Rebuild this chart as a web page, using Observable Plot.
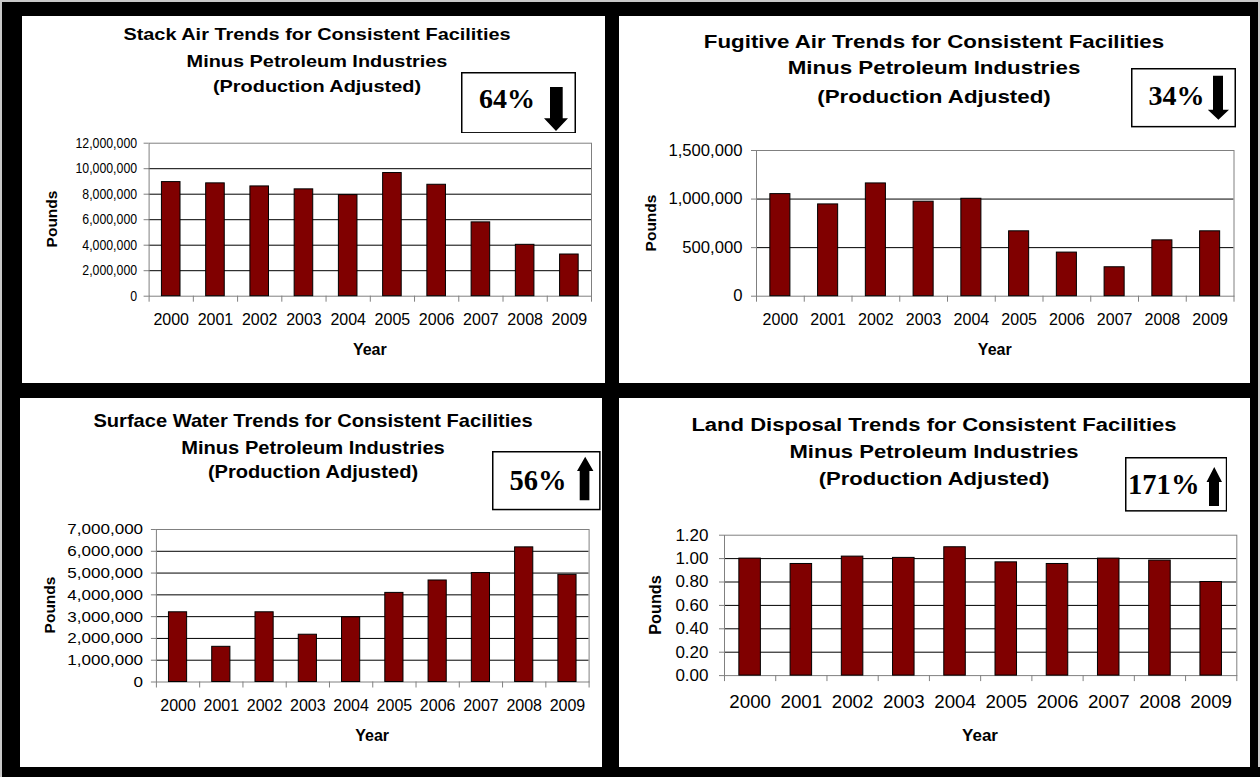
<!DOCTYPE html>
<html>
<head>
<meta charset="utf-8">
<script src="https://cdn.jsdelivr.net/npm/d3@7"></script>
<script src="https://cdn.jsdelivr.net/npm/@observablehq/plot@0.6"></script>
<style>
  html, body { margin: 0; padding: 0; background: #000; }
  #root { position: relative; width: 1260px; height: 777px; background: #000; overflow: hidden; }
  #edgeL { position: absolute; left: 0; top: 0; width: 2px; height: 777px; background: #c8c8c8; }
  #edgeT { position: absolute; left: 0; top: 0; width: 1260px; height: 2px; background: #c8c8c8; }
  #edgeR { position: absolute; right: 0; top: 0; width: 2px; height: 767px; background: #c8c8c8; }
  .panel { position: absolute; background: #fff; overflow: hidden; }
  .panel svg.chart { position: absolute; left: 0; top: 0; }
  .tline { position: absolute; left: 0; width: 0; height: 0; }
  .tline span { position: absolute; left: 0; top: 0; white-space: nowrap; font-family: "Liberation Sans", Arial, sans-serif; font-weight: bold; line-height: 1; color: #000; }
  .lbl { position: absolute; white-space: nowrap; font-family: "Liberation Sans", Arial, sans-serif; font-weight: bold; line-height: 1; color: #000; }
  .box { position: absolute; }
</style>
</head>
<body>
<div id="root"><div id="edgeL"></div><div id="edgeT"></div><div id="edgeR"></div></div>
<script>
// ---------------- data ----------------
const years = ["2000", "2001", "2002", "2003", "2004", "2005", "2006", "2007", "2008", "2009"];

const stackAir     = [8950000, 8850000, 8610000, 8380000, 7930000, 9660000, 8740000, 5790000, 4030000, 3270000];
const fugitiveAir  = [1051000, 945000, 1161000, 973000, 1003000, 668000, 449000, 298000, 575000, 668000];
const surfaceWater = [3200000, 1615000, 3200000, 2170000, 2970000, 4090000, 4660000, 5000000, 6180000, 4920000];
const landDisposal = [1.00, 0.954, 1.017, 1.006, 1.097, 0.968, 0.954, 1.00, 0.983, 0.80];

const stackTicks    = [0, 2000000, 4000000, 6000000, 8000000, 10000000, 12000000];
const fugitiveTicks = [0, 500000, 1000000, 1500000];
const surfaceTicks  = [0, 1000000, 2000000, 3000000, 4000000, 5000000, 6000000, 7000000];
const landTicks     = [0, 0.2, 0.4, 0.6, 0.8, 1.0, 1.2];

const stackTitle    = ["Stack Air Trends for Consistent Facilities", "Minus Petroleum Industries", "(Production Adjusted)"];
const fugitiveTitle = ["Fugitive Air Trends for Consistent Facilities", "Minus Petroleum Industries", "(Production Adjusted)"];
const surfaceTitle  = ["Surface Water Trends for Consistent Facilities", "Minus Petroleum Industries", "(Production Adjusted)"];
const landTitle     = ["Land Disposal Trends for Consistent Facilities", "Minus Petroleum Industries", "(Production Adjusted)"];

const changes    = ["64%", "34%", "56%", "171%"];
const directions = ["down", "down", "up", "up"];
const xTitle = "Year";
const yTitle = "Pounds";

// ---------------- layout / style ----------------
const layouts = [
  { x: 22, y: 16, w: 583, h: 367, ml: 126.6, mr: 14, mt: 126.7, mb: 87.3,
    fmt: ",", yFont: 14, yStretch: 0.88, yPad: 7, xFont: 16, xStretch: 1, xPad: 17.3,
    tFont: 17, tStretch: 1.17, tCx: 294.6, tYs: [18.3, 45, 70],
    yearFont: 16, yearX: 347.8, yearY: 334, pFont: 15.5, pX: 30, pY: 203.2,
    box: { x: 439, y: 55.7, w: 115, h: 61.6, tx: 18, base: 36.3, font: 28,
           ar: { hx0: 83, hx1: 107, sx0: 89, sx1: 101.7, a: 15, b: 46.3, c: 59 } } },
  { x: 619, y: 16, w: 631, h: 367, ml: 137, mr: 16.5, mt: 134, mb: 87.3,
    fmt: ",", yFont: 16, yStretch: 1.04, yPad: 9, xFont: 16, xStretch: 1, xPad: 17.5,
    tFont: 18.6, tStretch: 1.2, tCx: 315, tYs: [25.7, 52.3, 80.7],
    yearFont: 16, yearX: 375.75, yearY: 334, pFont: 15.5, pX: 31.6, pY: 206.85,
    box: { x: 512, y: 52.3, w: 105, h: 59.4, tx: 17.6, base: 36.7, font: 28,
           ar: { hx0: 76.8, hx1: 98, sx0: 82, sx1: 92, a: 7.7, b: 41.7, c: 51.7 } } },
  { x: 20, y: 398, w: 582, h: 369, ml: 135.9, mr: 13.4, mt: 131, mb: 85.5,
    fmt: ",", yFont: 15.5, yStretch: 1.1, yPad: 8.3, xFont: 16, xStretch: 1, xPad: 17.7,
    tFont: 17.8, tStretch: 1.13, tCx: 293.4, tYs: [23.8, 50.7, 74.8],
    yearFont: 16, yearX: 352.2, yearY: 338, pFont: 15.5, pX: 30, pY: 207,
    box: { x: 472, y: 53.3, w: 108.6, h: 59.3, tx: 17.4, base: 39.2, font: 28.5,
           ar: { hx0: 85, hx1: 101.4, sx0: 87.7, sx1: 97.4, a: 5.7, b: 20.1, c: 49.3 } } },
  { x: 619, y: 398, w: 631, h: 369, ml: 105, mr: 13.7, mt: 136.7, mb: 91.9,
    fmt: ".2f", yFont: 17, yStretch: 1.0, yPad: 11, xFont: 18, xStretch: 1.04, xPad: 20.1,
    tFont: 18.7, tStretch: 1.18, tCx: 315, tYs: [26.5, 54, 80.8],
    yearFont: 17, yearX: 361, yearY: 337, pFont: 16.3, pX: 35.7, pY: 207,
    box: { x: 506, y: 59, w: 102.3, h: 54.6, tx: 3, base: 36.8, font: 28.6,
           ar: { hx0: 81.5, hx1: 97, sx0: 84, sx1: 94, a: 10, b: 25, c: 49 } } }
];

const series = [
  { values: stackAir, ticks: stackTicks, title: stackTitle },
  { values: fugitiveAir, ticks: fugitiveTicks, title: fugitiveTitle },
  { values: surfaceWater, ticks: surfaceTicks, title: surfaceTitle },
  { values: landDisposal, ticks: landTicks, title: landTitle }
];

const BAR = "#800000";
const AXIS = "#808080";
const root = document.getElementById("root");

function stretchTexts(nodes, k) {
  nodes.forEach(t => {
    const len = t.getComputedTextLength();
    if (len > 0 && k !== 1) {
      t.setAttribute("textLength", len * k);
      t.setAttribute("lengthAdjust", "spacingAndGlyphs");
    }
  });
}

series.forEach((s, idx) => {
  const L = layouts[idx];
  const panel = document.createElement("div");
  panel.className = "panel";
  Object.assign(panel.style, { left: L.x + "px", top: L.y + "px", width: L.w + "px", height: L.h + "px" });
  root.appendChild(panel);

  const rows = years.map((year, i) => ({ year, value: s.values[i] }));
  const yMax = d3.max(s.ticks);
  const step = (L.w - L.ml - L.mr) / years.length;

  const chart = Plot.plot({
    width: L.w, height: L.h,
    marginLeft: L.ml, marginRight: L.mr, marginTop: L.mt, marginBottom: L.mb,
    style: { background: "transparent", fontFamily: "'Liberation Sans', Arial, sans-serif", fontSize: L.xFont + "px", color: "#000", overflow: "visible" },
    x: { type: "band", domain: years, paddingInner: 0.58, paddingOuter: 0.29, round: false, tickSize: 0, tickPadding: L.xPad, label: null },
    y: { domain: [0, yMax], ticks: s.ticks, tickFormat: d3.format(L.fmt), tickSize: 5, tickPadding: L.yPad, label: null },
    marks: [
      Plot.ruleY(s.ticks.filter(t => t > 0 && t < yMax), { stroke: "#000", strokeWidth: 1 }),
      Plot.frame({ stroke: AXIS }),
      Plot.barY(rows, { x: "year", y: "value", fill: BAR, stroke: "#000", strokeWidth: 1 }),
      Plot.ruleX(years, { x: d => d, dx: -step / 2, y1: () => 0, y2: () => 0, insetBottom: -6, stroke: AXIS }),
      Plot.ruleX(years.slice(-1), { x: d => d, dx: step / 2, y1: () => 0, y2: () => 0, insetBottom: -6, stroke: AXIS })
    ]
  });
  chart.classList.add("chart");
  panel.appendChild(chart);

  const sel = d3.select(chart);
  sel.selectAll('[aria-label^="y-axis"] line, [aria-label^="y-axis"] path').attr("stroke", AXIS);
  const yTexts = sel.selectAll('[aria-label^="y-axis"] text').style("font-size", L.yFont + "px").nodes();
  stretchTexts(yTexts, L.yStretch);
  stretchTexts(sel.selectAll('[aria-label^="x-axis"] text').nodes(), L.xStretch);

  // titles
  s.title.forEach((line, j) => {
    const wrap = document.createElement("div");
    wrap.className = "tline";
    wrap.style.left = L.tCx + "px";
    wrap.style.top = L.tYs[j] + "px";
    const span = document.createElement("span");
    span.textContent = line;
    span.style.fontSize = L.tFont + "px";
    span.style.transform = `translate(-50%, -50%) scaleX(${L.tStretch})`;
    wrap.appendChild(span);
    panel.appendChild(wrap);
  });

  // axis titles
  const yr = document.createElement("div");
  yr.className = "lbl";
  yr.textContent = xTitle;
  Object.assign(yr.style, { left: L.yearX + "px", top: L.yearY + "px", fontSize: L.yearFont + "px", transform: "translate(-50%, -50%)" });
  panel.appendChild(yr);

  const pd = document.createElement("div");
  pd.className = "lbl";
  pd.textContent = yTitle;
  Object.assign(pd.style, { left: L.pX + "px", top: L.pY + "px", fontSize: L.pFont + "px", transform: "translate(-50%, -50%) rotate(-90deg)" });
  panel.appendChild(pd);

  // percent-change box
  const B = L.box, A = B.ar;
  const box = d3.select(panel).append("svg").attr("class", "box")
    .style("left", B.x + "px").style("top", B.y + "px")
    .attr("width", B.w).attr("height", B.h);
  box.append("rect").attr("x", 0.75).attr("y", 0.75).attr("width", B.w - 1.5).attr("height", B.h - 1.5)
    .attr("fill", "#fff").attr("stroke", "#000").attr("stroke-width", 1.5);
  box.append("text").attr("x", B.tx).attr("y", B.base)
    .attr("font-family", "'Liberation Serif', 'Times New Roman', serif").attr("font-weight", "bold")
    .attr("font-size", B.font).attr("fill", "#000").text(changes[idx]);
  const mid = (A.hx0 + A.hx1) / 2;
  const pts = directions[idx] === "down"
    ? [[A.sx0, A.a], [A.sx1, A.a], [A.sx1, A.b], [A.hx1, A.b], [mid, A.c], [A.hx0, A.b], [A.sx0, A.b]]
    : [[mid, A.a], [A.hx1, A.b], [A.sx1, A.b], [A.sx1, A.c], [A.sx0, A.c], [A.sx0, A.b], [A.hx0, A.b]];
  box.append("polygon").attr("points", pts.map(p => p.join(",")).join(" ")).attr("fill", "#000");
});
</script>
</body>
</html>
